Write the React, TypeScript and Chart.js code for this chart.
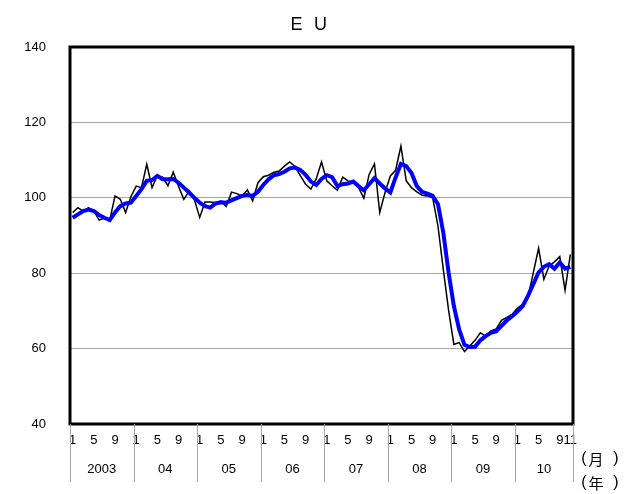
import React, { useEffect, useRef } from "react";
import { Chart, registerables } from "chart.js";

Chart.register(...registerables);

// Years shown on the second row of the x axis
const yearLabels = ["2003", "04", "05", "06", "07", "08", "09", "10"];
const startYear = 2003;
const monthCount = 95; // Jan 2003 .. Nov 2010
const monthTickShown = [1, 5, 9];
const lastMonthTick = "11";

// Monthly index (black)
const monthly = [
  96.1, 97.4, 96.4, 97.4, 96.5, 94.1, 94.6, 94.0, 100.5, 99.6, 96.1, 100.3,
  103.1, 102.7, 108.9, 102.7, 105.9, 105.5, 103.2, 106.8, 103.0, 99.6, 101.8, 99.5,
  94.8, 98.9, 98.9, 98.7, 99.1, 97.7, 101.5, 101.1, 100.5, 102.1, 99.2, 104.0,
  105.6, 106.0, 106.8, 107.1, 108.4, 109.5, 108.3, 105.9, 103.6, 102.3, 105.0, 109.5,
  104.5, 103.2, 102.0, 105.5, 104.5, 104.0, 102.7, 99.9, 106.2, 109.0, 96.1, 101.4,
  105.8, 107.3, 113.7, 104.5, 102.7, 101.6, 100.7, 100.5, 100.0, 92.5, 81.0, 70.2,
  61.1, 61.6, 59.2, 60.7, 62.2, 64.2, 63.3, 64.7, 65.2, 67.5, 68.3, 69.1,
  70.7, 71.8, 73.7, 80.1, 86.6, 78.4, 81.9, 83.0, 84.4, 75.5, 85.0,
];

// Trend (blue)
const trend = [
  94.7, 95.6, 96.5, 96.9, 96.5, 95.4, 94.7, 94.1, 96.1, 97.8, 98.5, 98.7,
  100.5, 102.3, 104.5, 104.7, 105.8, 104.9, 104.9, 105.0, 104.0, 102.7, 101.4, 100.0,
  98.7, 97.8, 97.4, 98.5, 98.8, 98.7, 99.3, 99.9, 100.5, 100.8, 100.5, 101.6,
  103.4, 104.9, 106.0, 106.3, 106.9, 107.8, 108.0, 107.4, 106.1, 104.3, 103.4, 105.0,
  106.0, 105.5, 103.1, 103.6, 103.8, 104.3, 103.1, 102.0, 103.6, 105.2, 103.8, 102.5,
  101.4, 105.4, 109.0, 108.4, 106.6, 103.1, 101.6, 101.1, 100.5, 98.3, 90.8, 80.2,
  71.3, 65.1, 61.0, 60.4, 60.5, 62.2, 63.3, 64.2, 64.6, 66.0, 67.5, 68.6,
  69.8, 71.3, 74.0, 77.1, 80.2, 81.7, 82.4, 81.2, 82.8, 81.2, 81.7,
];

const categories: string[] = [];
for (let i = 0; i < monthCount; i++) {
  const y = startYear + Math.floor(i / 12);
  const m = (i % 12) + 1;
  categories.push(`${y}-${m}`);
}

const LATIN = "'Liberation Sans', Arial, sans-serif";
const CJK = "'Noto Sans CJK JP', 'Noto Sans CJK SC', sans-serif";

const axisPlugin = {
  id: "customAxis",
  afterDraw(chart: any) {
    const { ctx, chartArea } = chart;
    const xs = chart.scales.x;
    const { left, right, top, bottom } = chartArea;
    ctx.save();

    // title "E U"
    ctx.fillStyle = "#000";
    ctx.font = `18px ${LATIN}`;
    ctx.textAlign = "center";
    ctx.textBaseline = "alphabetic";
    const mid = (left + right) / 2;
    ctx.fillText("E", mid - 25, 30);
    ctx.fillText("U", mid - 1, 30);

    // frame
    ctx.strokeStyle = "#000";
    ctx.lineWidth = 3;
    ctx.strokeRect(left, top, right - left, bottom - top);

    // month tick labels
    ctx.font = `13px ${LATIN}`;
    ctx.textAlign = "center";
    ctx.textBaseline = "middle";
    for (let i = 0; i < monthCount; i++) {
      const m = (i % 12) + 1;
      let label = "";
      if (monthTickShown.includes(m)) label = String(m);
      if (i === monthCount - 1) label = lastMonthTick;
      if (!label) continue;
      const x = xs.getPixelForValue(i);
      ctx.fillText(label, x, bottom + 16);
    }

    // year dividers and labels
    const step = (right - left) / monthCount;
    ctx.strokeStyle = "#a6a6a6";
    ctx.lineWidth = 1;
    const nYears = yearLabels.length;
    for (let k = 0; k <= nYears; k++) {
      const idx = Math.min(k * 12, monthCount);
      const x = Math.round(left + idx * step) + 0.5;
      ctx.beginPath();
      ctx.moveTo(x, bottom);
      ctx.lineTo(x, bottom + 58);
      ctx.stroke();
    }
    for (let k = 0; k < nYears; k++) {
      const a = left + k * 12 * step;
      const b = left + Math.min((k + 1) * 12, monthCount) * step;
      ctx.fillText(yearLabels[k], (a + b) / 2, bottom + 45);
    }

    // unit labels "( 月 )" / "( 年 )"
    const unitRows: [string, number][] = [
      ["月", bottom + 35],
      ["年", bottom + 59],
    ];
    for (const [ch, yy] of unitRows) {
      ctx.textAlign = "center";
      ctx.font = `16px ${LATIN}`;
      ctx.fillText("(", right + 11, yy);
      ctx.fillText(")", right + 43, yy);
      ctx.font = `15px ${CJK}`;
      ctx.fillText(ch, right + 23, yy);
    }
    ctx.restore();
  },
};

export default function App() {
  const ref = useRef<HTMLCanvasElement>(null);
  useEffect(() => {
    document.body.style.margin = "0";
    const chart = new Chart(ref.current!, {
      type: "line",
      data: {
        labels: categories,
        datasets: [
          {
            data: monthly,
            borderColor: "#000000",
            borderWidth: 1.5,
            pointRadius: 0,
            tension: 0,
            order: 2,
          },
          {
            data: trend,
            borderColor: "#0000ff",
            borderWidth: 4,
            pointRadius: 0,
            tension: 0,
            order: 1,
          },
        ],
      },
      options: {
        responsive: false,
        animation: false,
        layout: { padding: { left: 0, right: 53, top: 47, bottom: 70 } },
        plugins: { legend: { display: false }, tooltip: { enabled: false }, title: { display: false } },
        scales: {
          x: {
            type: "category",
            offset: true,
            grid: { display: false },
            border: { display: false },
            ticks: { display: false },
            afterFit: (s: any) => {
              s.height = 0;
            },
          },
          y: {
            min: 40,
            max: 140,
            ticks: {
              stepSize: 20,
              color: "#000",
              padding: 24,
              font: { size: 13, family: LATIN },
            },
            grid: { color: "#a6a6a6", drawTicks: false, lineWidth: 1 },
            border: { display: false },
            afterFit: (s: any) => {
              s.width = 70;
            },
          },
        },
      },
      plugins: [axisPlugin],
    });
    return () => chart.destroy();
  }, []);
  return (
    <div style={{ width: 626, height: 494 }}>
      <canvas ref={ref} width={626} height={494} />
    </div>
  );
}
